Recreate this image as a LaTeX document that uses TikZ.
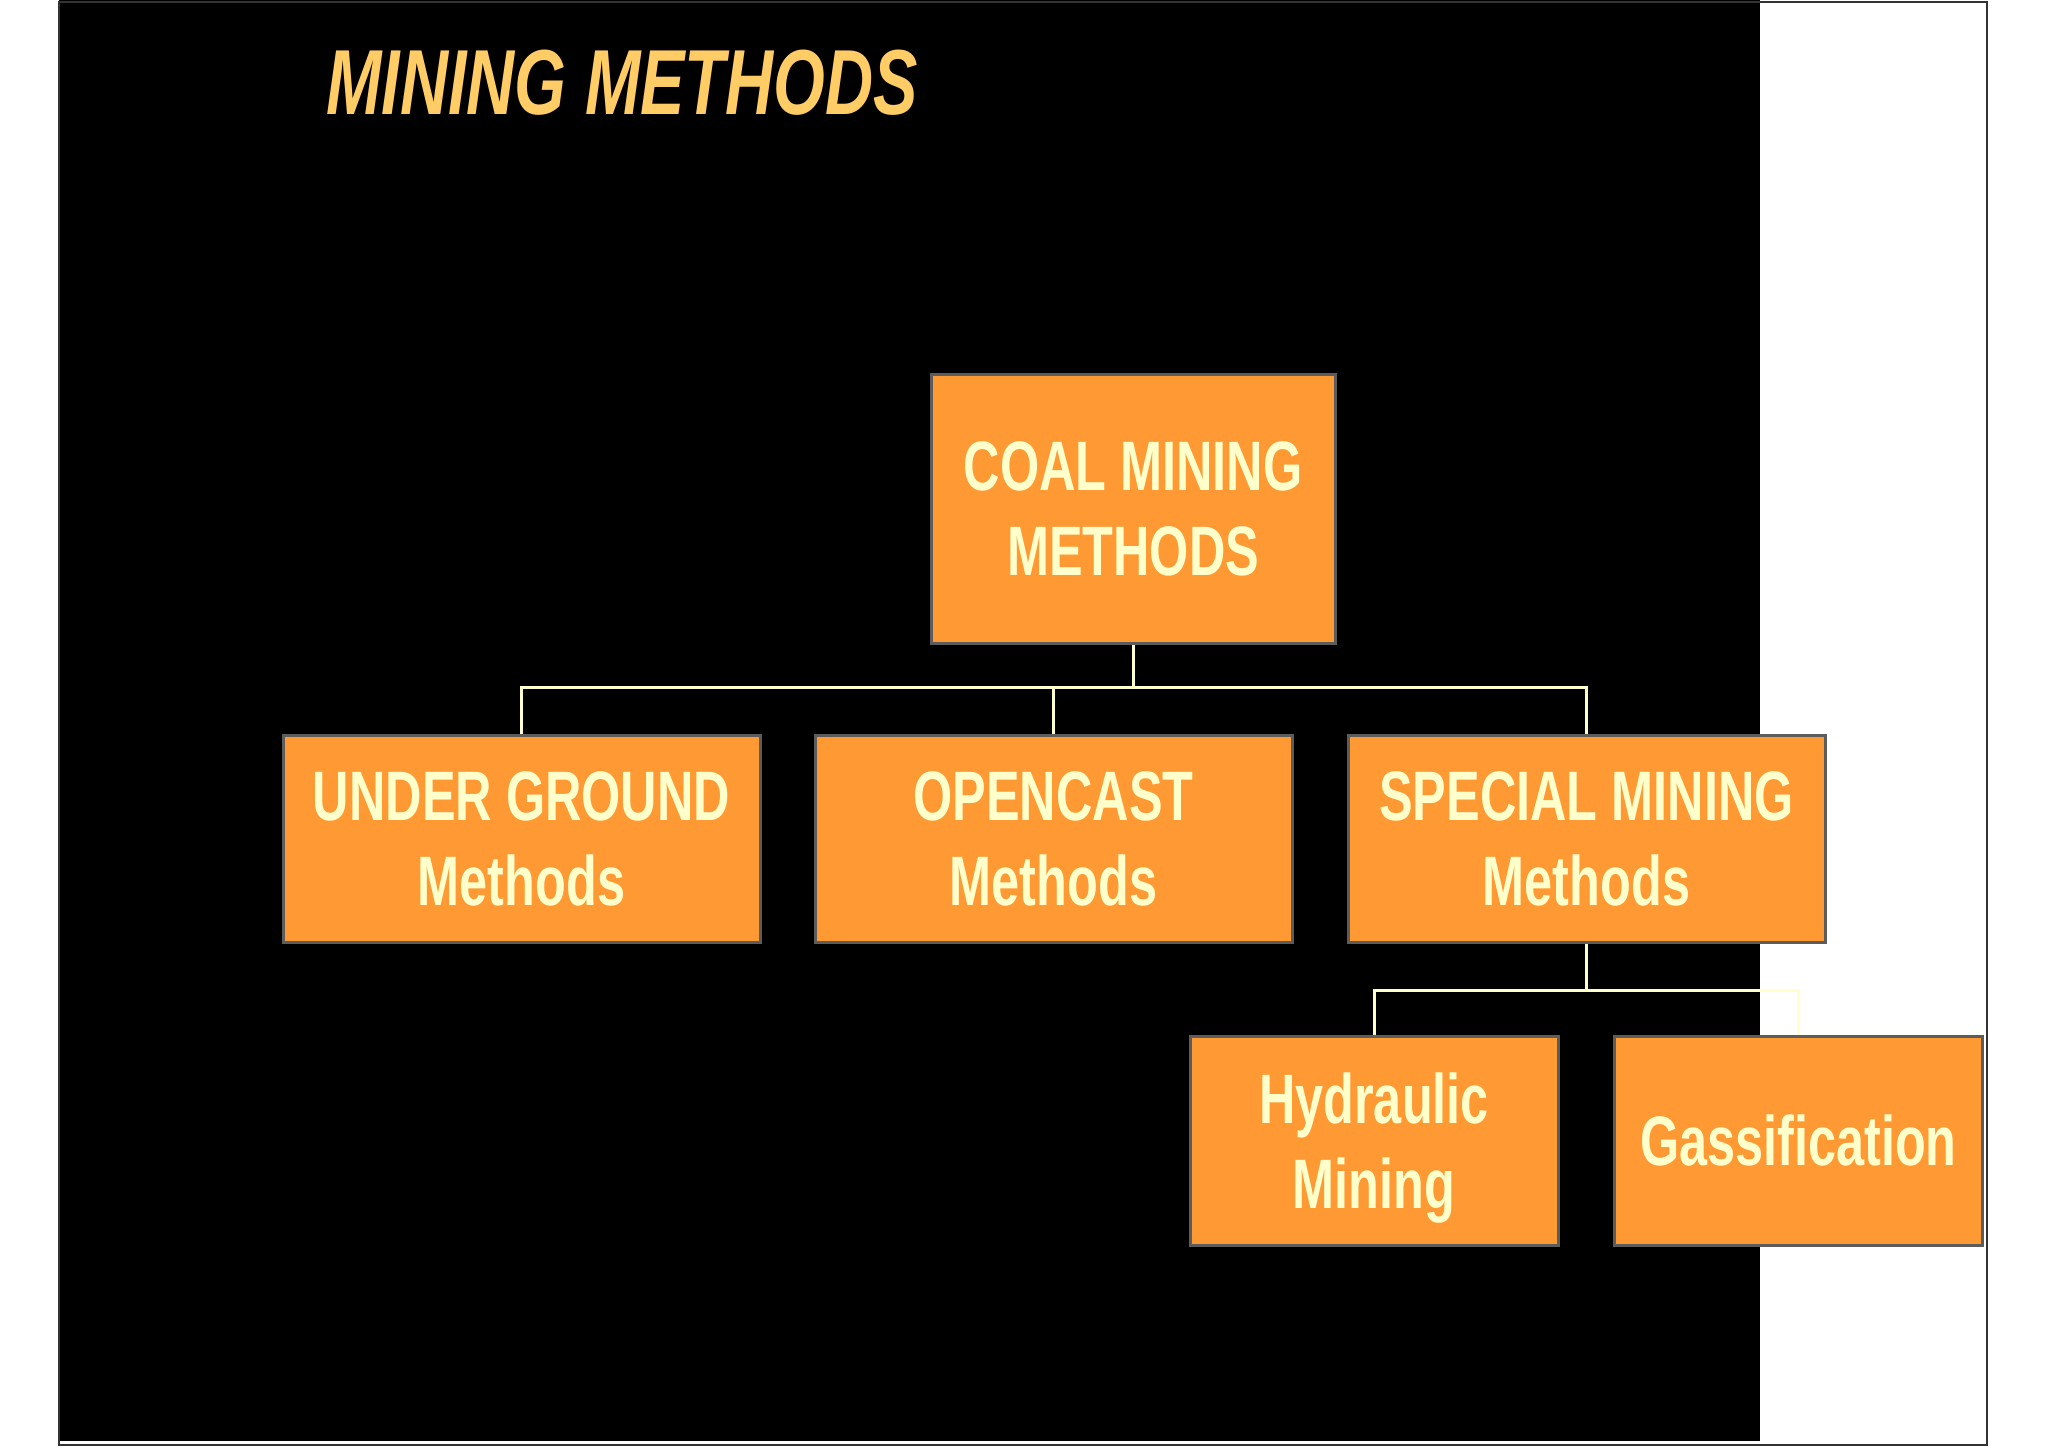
\documentclass[tikz,border=0pt]{standalone}
\usepackage{fontspec}
\newfontfamily\narrowsans[FakeStretch=0.72]{Liberation Sans}
\definecolor{boxorange}{HTML}{FF9933}
\definecolor{boxgray}{HTML}{5C5C5C}
\definecolor{boxtext}{HTML}{FFFFCC}
\definecolor{titlegold}{HTML}{FFCC66}
\definecolor{framegray}{HTML}{333333}

\tikzset{
    method/.style={rectangle, draw=boxgray, line width=1.5pt, fill=boxorange,
        text=boxtext, align=center, inner sep=0pt,
        font=\narrowsans\bfseries\fontsize{35}{42.5}\selectfont},
    link/.style={draw=boxtext, line width=1.5pt},
}

\begin{document}
\begin{tikzpicture}[x=0.5pt, y=-0.5pt]
    \useasboundingbox (0,0) rectangle (2048,1447);

    % Slide background and frame
    \fill[black] (59,0) rectangle (1760,1441);
    \draw[framegray, line width=1.2pt] (59,2) rectangle (1987,1445);

    % Title
    \node[anchor=base west, text=titlegold, inner sep=0pt,
        font=\narrowsans\bfseries\itshape\fontsize{46.2}{46.2}\selectfont]
        (title) at (326,114) {MINING METHODS};

    % Root
    \node[method, minimum width=202pt, minimum height=134.5pt] (root) at (1133,508.5) {COAL MINING\\METHODS};

    % Second level
    \node[method, minimum width=238.5pt, minimum height=103.5pt] (ug) at (521.5,838.5) {UNDER GROUND\\Methods};
    \node[method, minimum width=238.5pt, minimum height=103.5pt] (oc) at (1053.5,838.5) {OPENCAST\\Methods};
    \node[method, minimum width=238.5pt, minimum height=103.5pt] (sp) at (1586.5,838.5) {SPECIAL MINING\\Methods};

    % Third level
    \node[method, minimum width=184pt, minimum height=104.5pt] (hyd) at (1374,1140.5) {Hydraulic\\\smash{Mining}};
    \node[method, minimum width=184pt, minimum height=104.5pt] (gas) at (1798.5,1140.5) {Gassification};

    % Connectors
    \coordinate (bus1) at (1133,687);
    \coordinate (bus2) at (1586.5,990);
    \draw[link] (root.south) -- (bus1);
    \draw[link] (ug.north) |- (bus1) -| (sp.north);
    \draw[link] (oc.north) -- (oc.north |- bus1);
    \draw[link] (sp.south) -- (bus2);
    \draw[link] (hyd.north) |- (bus2) -| (gas.north);
\end{tikzpicture}
\end{document}
